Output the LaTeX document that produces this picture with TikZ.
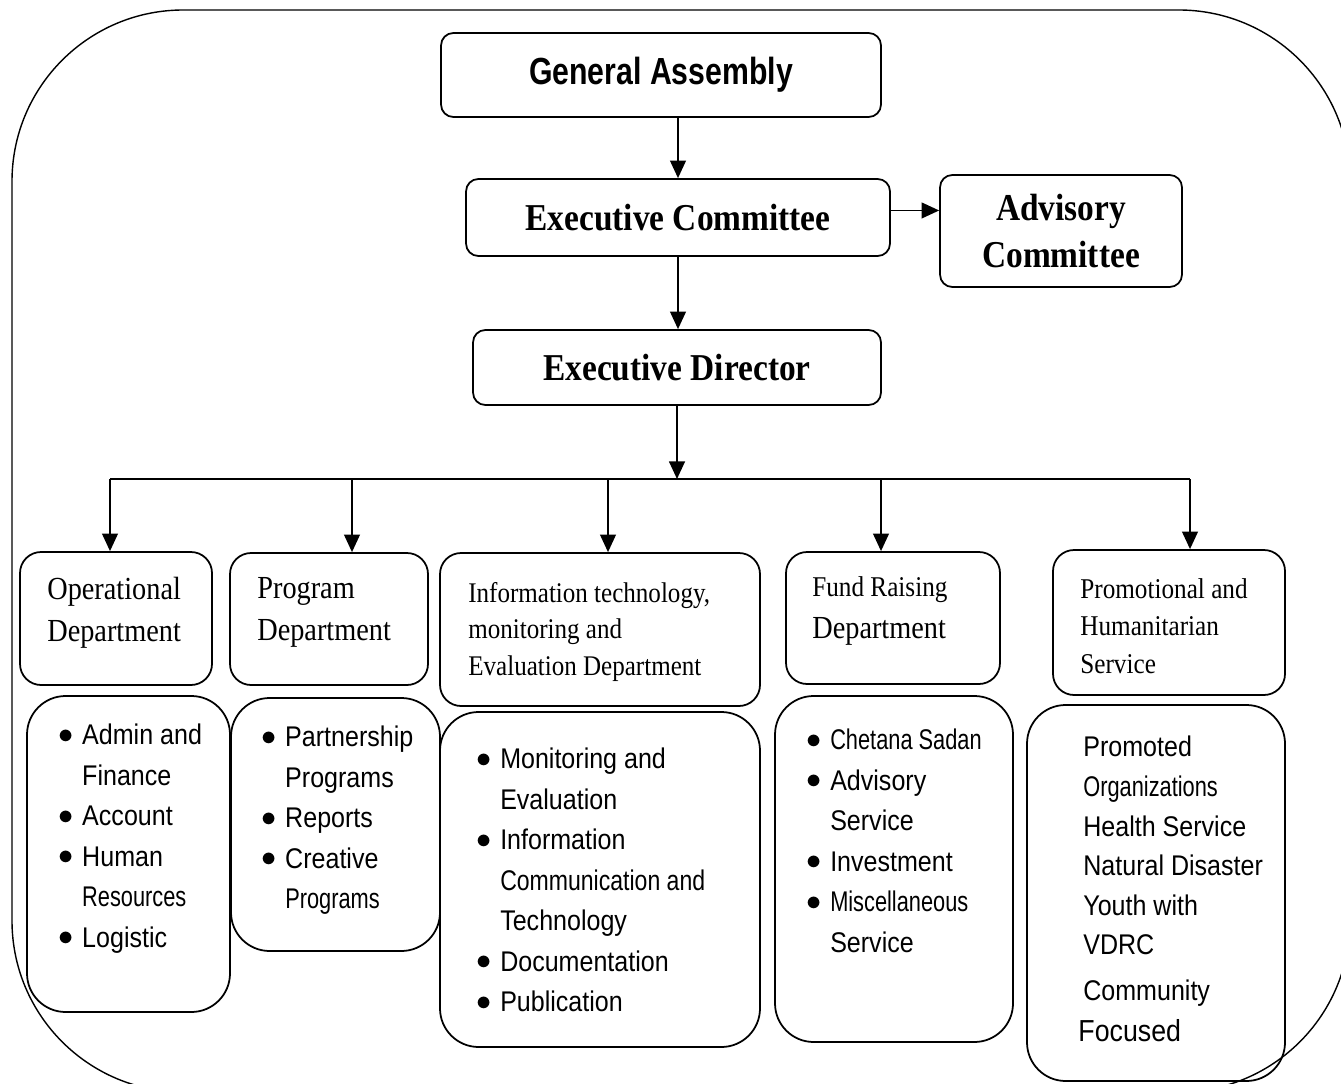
\documentclass[tikz,border=0pt]{standalone}
\usepackage{fontspec}
\setmainfont{Liberation Serif}[FakeStretch=0.88]
\setsansfont{Liberation Sans}[FakeStretch=0.88]
\newfontfamily\gafont{Liberation Sans}[FakeStretch=0.8]
\usetikzlibrary{fit}
\usetikzlibrary{arrows.meta}

\newcommand{\itm}{\makebox[13.6pt][l]{\raisebox{0.8pt}{$\bullet$}}}
\newcommand{\ind}{\hspace*{13.6pt}}
\newcommand{\nrw}[1]{\scalebox{0.87}[1]{#1}}

\begin{document}
\begin{tikzpicture}[x=0.02cm, y=-0.02cm,
  box/.style={draw, line width=1pt, inner sep=0pt},
  head/.style={box, rounded corners=7pt, align=center, font={\bfseries\fontsize{21.6}{27}\selectfont}},
  dept/.style={box, rounded corners=12pt},
  list/.style={box, rounded corners=22pt},
  depttxt/.style={anchor=north west, inner sep=0pt, align=left, font={\fontsize{18.3}{23.8}\selectfont}},
  listtxt/.style={anchor=north west, inner sep=0pt, align=left, font={\sffamily\fontsize{16.2}{23}\selectfont}},
  arr/.style={-{Triangle[length=10pt, width=9pt]}, line width=1pt}]

\useasboundingbox (0,0) rectangle (1341,1084);
\clip (0,0) rectangle (1341,1084);

\draw[line width=0.8pt, rounded corners=97.5pt] (12,10) rectangle (1350,1092);

\node (GA) at (661,75) [head, minimum width=8.8cm, minimum height=1.68cm, font={\gafont\bfseries\fontsize{21.5}{26}\selectfont}] {General Assembly};
\node (EC) at (678,217.5) [head, minimum width=8.48cm, minimum height=1.54cm] {Executive Committee};
\node (AC) at (1061,231) [head, minimum width=4.84cm, minimum height=2.24cm] {Advisory\\Committee};
\node (ED) at (677,367.5) [head, minimum width=8.16cm, minimum height=1.5cm] {Executive Director};

\coordinate (B) at (677,479);
\coordinate (B1) at (110,479);
\coordinate (B2) at (352,479);
\coordinate (B3) at (608,479);
\coordinate (B4) at (881,479);
\coordinate (B5) at (1190,479);

\node (D1) [dept, fit={(20,552) (212,685)}] {};
\node (D2) [dept, fit={(230,553) (428,685)}] {};
\node (D3) [dept, fit={(440,553) (760,706)}] {};
\node (D4) [dept, fit={(786,552) (1000,684)}] {};
\node (D5) [dept, fit={(1053,550) (1285,695)}] {};

\node (D1t) [depttxt] at (47,577) {Operational\\Department};
\node (D2t) [depttxt] at (257,577) {Program\\Department};
\node (D3t) [depttxt, font={\fontsize{16.2}{20.7}\selectfont}] at (468,582) {Information technology,\\monitoring and\\Evaluation Department};
\node (D4t) [depttxt] at (812,576) {{\fontsize{16.3}{20}\selectfont Fund Raising}\\Department};
\node (D5t) [depttxt, font={\fontsize{16.3}{21.3}\selectfont}] at (1080,578) {Promotional and\\Humanitarian\\Service};

\node (L1) [list, fit={(27,696) (230,1012)}] {};
\node (L2) [list, fit={(231,698) (440,951)}] {};
\node (L3) [list, fit={(440,712) (760,1047)}] {};
\node (L4) [list, fit={(775,696) (1013,1042)}] {};
\node (L5) [list, fit={(1027,705) (1285,1081)}] {};

\node (L1t) [listtxt] at (58,724) {\itm Admin and\\\ind Finance\\\itm Account\\\itm Human\\\ind \nrw{Resources}\\\itm Logistic};
\node (L2t) [listtxt] at (261,726) {\itm Partnership\\\ind Programs\\\itm Reports\\\itm Creative\\\ind \nrw{Programs}};
\node (L3t) [listtxt] at (476,748) {\itm Monitoring and\\\ind Evaluation\\\itm Information\\\ind \scalebox{0.92}[1]{Communication and}\\\ind Technology\\\itm Documentation\\\itm Publication};
\node (L4t) [listtxt] at (806,729) {\itm \nrw{Chetana Sadan}\\\itm Advisory\\\ind Service\\\itm Investment\\\itm \nrw{Miscellaneous}\\\ind Service};
\node (L5t) [listtxt, font={\sffamily\fontsize{16.2}{22.5}\selectfont}] at (1083,736) {Promoted\\\nrw{Organizations}\\Health Service\\Natural Disaster\\Youth with\\VDRC\\[3.5pt]Community\\[1pt]\hspace*{-2.8pt}{\fontsize{17.3}{22.5}\selectfont Focused}};

\path[arr] (GA.south -| EC.north) edge (EC.north);
\path[arr] ([yshift=4pt]EC.east) edge ([yshift=4pt]AC.west |- EC.east);
\path[arr] (EC.south) edge (EC.south |- ED.north);
\path[arr] (ED.south) edge (B);

\draw[line width=1pt] (B1) -- (B5);

\path[arr] (B1) edge (B1 |- D1.north);
\path[arr] (B2) edge (B2 |- D2.north);
\path[arr] (B3) edge (B3 |- D3.north);
\path[arr] (B4) edge (B4 |- D4.north);
\path[arr] (B5) edge (B5 |- D5.north);
\end{tikzpicture}
\end{document}
